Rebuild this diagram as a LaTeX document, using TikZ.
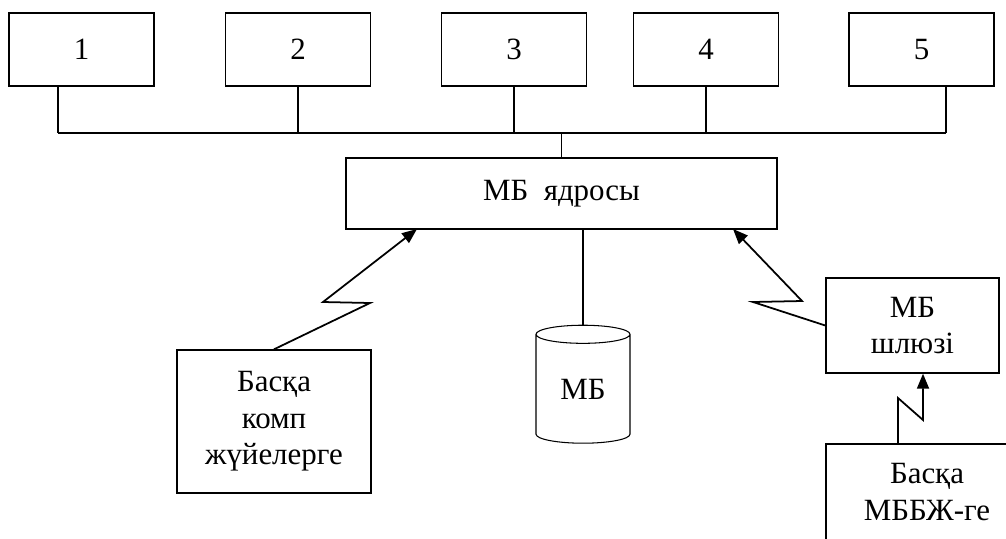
\documentclass[tikz,border=0pt]{standalone}
\usepackage{fontspec}
\setmainfont{Liberation Serif}
\usetikzlibrary{arrows.meta,shapes.geometric}
\tikzset{
  blok/.style={draw, line width=0.8pt, align=center, inner sep=0pt},
  jeli/.style={line width=0.6pt},
  zig/.style={line width=1pt, -{Triangle[length=0.3cm, width=0.24cm]}},
}
\begin{document}
\begin{tikzpicture}[x=0.02cm, y=-0.02cm, font=\fontsize{17.6}{20.7}\selectfont]
  \useasboundingbox (0,0) rectangle (1006,538);
  \clip (0,0) rectangle (1006,538);
  % Жоғарғы блоктар
  \node[blok, minimum width=2.9cm, minimum height=1.46cm] (b1) at (81.5,49.5) {1};
  \node[blok, minimum width=2.9cm, minimum height=1.46cm] (b2) at (298,49.5) {2};
  \node[blok, minimum width=2.9cm, minimum height=1.46cm] (b3) at (514,49.5) {3};
  \node[blok, minimum width=2.9cm, minimum height=1.46cm] (b4) at (706,49.5) {4};
  \node[blok, minimum width=2.9cm, minimum height=1.46cm] (b5) at (921.5,49.5) {5};
  % Шина
  \coordinate (d1) at (58,133);
  \coordinate (d2) at (298,133);
  \coordinate (d3) at (514,133);
  \coordinate (d4) at (706,133);
  \coordinate (d5) at (946,133);
  \foreach \i in {1,...,5}
    \draw[jeli] (d\i |- b\i.south) -- (d\i);
  \draw[jeli] (d1) -- (d5);
  % Ядро
  \node[blok, minimum width=8.62cm, minimum height=1.42cm] (core) at (561.5,193.5) {МБ\ \ ядросы};
  \draw[jeli] (core.north) -- (core.north |- d1);
  % Төменгі блоктар
  \node[blok, minimum width=3.88cm, minimum height=2.86cm] (comp) at (274,421.5) {Басқа\\комп\\жүйелерге};
  \node[cylinder, shape border rotate=90, draw, jeli, aspect=0.4,
        minimum width=1.88cm, minimum height=2.36cm, inner sep=0pt] (db) at (583,389) {МБ};
  \node[blok, minimum width=3.46cm, minimum height=1.9cm] (gw) at (912.5,325.5) {МБ\\шлюзі};
  \node[blok, minimum width=4.04cm, minimum height=1.92cm] (other) at (927,492) {Басқа\\МББЖ-ге};
  \draw[jeli] (db.north) -- (db.north |- core.south);
  % Байланыс сызықтары
  \coordinate (l1) at (370,303);
  \coordinate (l2) at (323,302);
  \coordinate (l3) at (417,229);
  \draw[zig] (comp.north) -- (l1) -- (l2) -- (l3);
  \coordinate (r1) at (753,302);
  \coordinate (r2) at (802,301);
  \coordinate (r3) at (733,229);
  \draw[zig] (gw.west) -- (r1) -- (r2) -- (r3);
  \coordinate (v1) at (898,398);
  \coordinate (v2) at (923,420);
  \draw[zig] (other.north -| v1) -- (v1) -- (v2) -- (gw.south -| v2);
\end{tikzpicture}
\end{document}
